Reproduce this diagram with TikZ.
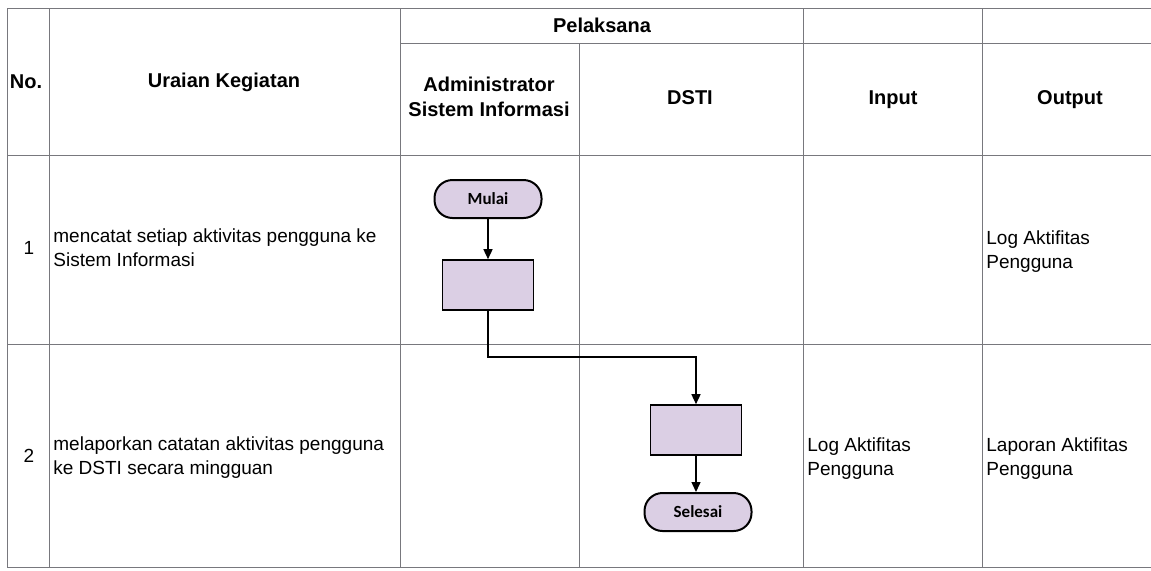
\documentclass[tikz,border=0pt]{standalone}
\usepackage{fontspec}
\setmainfont{Liberation Sans}
\newfontfamily\calibri{Carlito}
\usetikzlibrary{arrows.meta}
\definecolor{lav}{RGB}{219,207,228}
\definecolor{grid}{RGB}{120,120,125}
\begin{document}
\begin{tikzpicture}[x=0.5pt,y=-0.5pt,
    hdr/.style={font=\fontsize{10}{12.5}\selectfont\bfseries,align=center},
    txt/.style={font=\fontsize{9.5}{12}\selectfont,align=left,anchor=west,inner sep=0pt},
    term/.style={draw,fill=lav,rounded corners=9pt,line width=1pt,
        minimum width=53.5pt,minimum height=19pt,inner sep=0pt,
        font=\calibri\fontsize{8.5}{10}\selectfont\bfseries},
    proc/.style={draw,fill=lav,line width=0.8pt,minimum width=45.5pt,
        minimum height=25pt,inner sep=0pt},
    flow/.style={-{Triangle[length=5pt,width=4.5pt]},line width=0.7pt},
    gridline/.style={draw=grid,line width=0.5pt}]

    \useasboundingbox (0,0) rectangle (1151,570);

    % table
    \foreach \y in {8,155,344,567}
        \draw[gridline] (7,\y) -- (1151,\y);
    \draw[gridline] (400,43) -- (1151,43);
    \foreach \x in {7,49,400,803,982}
        \draw[gridline] (\x,8) -- (\x,567);
    \draw[gridline] (579,43) -- (579,567);

    % header
    \node[hdr] (hno) at (26,82) {No.};
    \node[hdr] (hura) at (224,82) {Uraian Kegiatan};
    \node[hdr] (hpel) at (602,25) {Pelaksana};
    \node[hdr] (hadm) at (489,97) {Administrator\\Sistem Informasi};
    \node[hdr] (hdsti) at (690,98) {DSTI};
    \node[hdr] (hin) at (893,100) {Input};
    \node[hdr] (hout) at (1070,100) {Output};

    % rows
    \node[txt,anchor=center] (no1) at (29,248) {1};
    \node[txt] (ura1) at (53,248) {mencatat setiap aktivitas pengguna ke\\Sistem Informasi};
    \node[txt] (out1) at (986,252) {Log Aktifitas\\Pengguna};
    \node[txt,anchor=center] (no2) at (29,456) {2};
    \node[txt] (ura2) at (53,458) {melaporkan catatan aktivitas pengguna\\ke DSTI secara mingguan};
    \node[txt] (in2) at (807,459) {Log Aktifitas\\Pengguna};
    \node[txt] (out2) at (986,459) {Laporan Aktifitas\\Pengguna};

    % flow
    \node[term] (mulai) at (488,199) {Mulai};
    \node[proc] (catat) at (488,285) {};
    \node[proc] (lapor) at (696,430) {};
    \node[term] (selesai) at (698,512) {Selesai};
    \coordinate (turn) at (488,357);

    \draw[flow] (mulai) -- (catat);
    \draw[flow] (catat.south) -- (turn) -| (lapor.north);
    \draw[flow] (lapor) -- (lapor |- selesai.north);

  \end{tikzpicture}
\end{document}
